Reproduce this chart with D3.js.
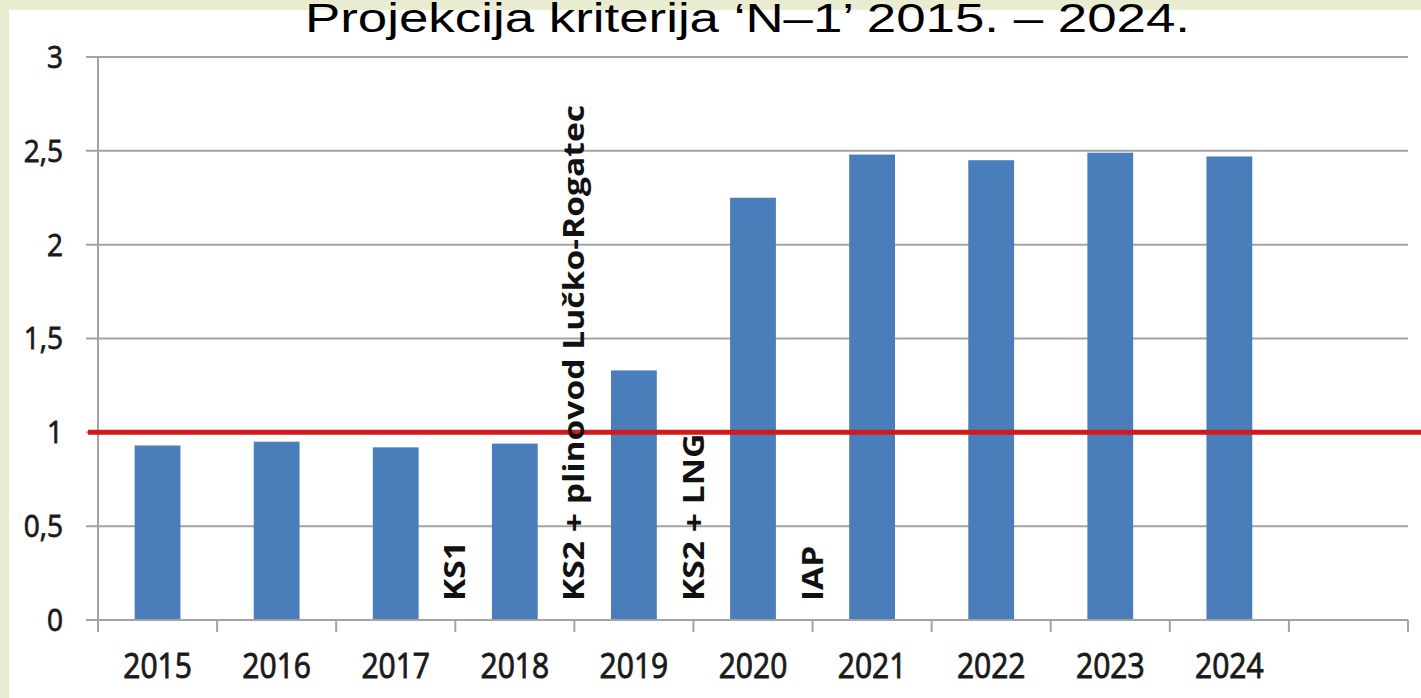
<!DOCTYPE html>
<html><head><meta charset="utf-8">
<script src="https://cdn.jsdelivr.net/npm/d3@7"></script>
<style>body{margin:0;background:#e9ecd0;overflow:hidden} svg{display:block}</style>
</head><body>
<svg id="c" width="1421" height="698"></svg>
<script>
// ---- data ----
const categories = ["2015","2016","2017","2018","2019","2020","2021","2022","2023","2024",""];
const values = [0.93, 0.95, 0.92, 0.94, 1.33, 2.25, 2.48, 2.45, 2.49, 2.47];
const yTicks = [0, 0.5, 1, 1.5, 2, 2.5, 3];
const yTickLabels = ["0", "0,5", "1", "1,5", "2", "2,5", "3"];
const threshold = 1;
const annotations = ["KS1", "KS2 + plinovod Lučko-Rogatec", "KS2 + LNG", "IAP"];
const annotationAt = ["2018", "2019", "2020", "2021"]; // drawn at left edge of these categories
const title = "Projekcija kriterija ‘N–1’ 2015. – 2024.";

// ---- layout ----
const L = 98, R = 1408, T = 57, B = 620;
const svg = d3.select("#c");
const x = d3.scaleBand().domain(categories).range([L, R]).padding(0);
const y = d3.scaleLinear().domain([0, 3]).range([B, T]);
const barW = x.bandwidth() / 2.6;
const gridCol = "#a3a3a3";
const textCol = "#1a1a1a";

// panel
svg.append("rect").attr("x", 9).attr("y", 10).attr("width", 1421 - 9).attr("height", 698 - 10).attr("fill", "#ffffff");

// title
svg.append("text").text(title)
  .attr("x", 305).attr("y", 32)
  .attr("font-family", "'Liberation Sans', Arial, sans-serif")
  .attr("font-size", 40).attr("fill", "#000")
  .attr("textLength", 885).attr("lengthAdjust", "spacingAndGlyphs");

// gridlines (with left tick extension)
svg.append("g").selectAll("line").data(yTicks.filter(d => d > 0)).join("line")
  .attr("x1", L - 12).attr("x2", R)
  .attr("y1", d => y(d)).attr("y2", d => y(d))
  .attr("stroke", gridCol).attr("stroke-width", 2);

// y labels
svg.append("g").selectAll("text").data(yTicks).join("text")
  .attr("transform", d => `translate(63,${y(d)}) scale(1,1.08)`)
  .attr("dy", "0.36em")
  .attr("text-anchor", "end")
  .attr("font-family", "'Open Sans', sans-serif").attr("font-size", 28)
  .attr("fill", textCol).attr("stroke", textCol).attr("stroke-width", 0.7)
  .text((d, i) => yTickLabels[i]);

// bars
svg.append("g").selectAll("rect").data(values).join("rect")
  .attr("x", (d, i) => x(categories[i]) + (x.bandwidth() - barW) / 2)
  .attr("width", barW)
  .attr("y", d => y(d))
  .attr("height", d => y(0) - y(d))
  .attr("fill", "#4a7ebb");

// x axis
svg.append("line").attr("x1", L - 12).attr("x2", R).attr("y1", y(0)).attr("y2", y(0))
  .attr("stroke", gridCol).attr("stroke-width", 2);
svg.append("line").attr("x1", L).attr("x2", L).attr("y1", y(3)).attr("y2", y(0) + 12)
  .attr("stroke", gridCol).attr("stroke-width", 2);
svg.append("g").selectAll("line").data(categories).join("line")
  .attr("x1", d => x(d) + x.bandwidth()).attr("x2", d => x(d) + x.bandwidth())
  .attr("y1", y(0)).attr("y2", y(0) + 12)
  .attr("stroke", gridCol).attr("stroke-width", 2);

// x labels
svg.append("g").selectAll("text").data(categories.filter(c => c)).join("text")
  .attr("transform", d => `translate(${x(d) + x.bandwidth() / 2},678) scale(1,1.17)`)
  .attr("text-anchor", "middle")
  .attr("font-family", "'Open Sans', sans-serif").attr("font-size", 30)
  .attr("fill", textCol).attr("stroke", textCol).attr("stroke-width", 0.8)
  .text(d => d);

// threshold line
svg.append("line").attr("x1", L - 10).attr("x2", 1421)
  .attr("y1", y(threshold)).attr("y2", y(threshold))
  .attr("stroke", "#d01a1e").attr("stroke-width", 5);

// annotations (rotated)
const ann = svg.append("g").selectAll("text").data(annotations).join("text")
  .attr("transform", (d, i) => `translate(${x(annotationAt[i])},601) rotate(-90)`)
  .attr("dy", "0.36em")
  .attr("text-anchor", "start")
  .attr("font-family", "'Open Sans', sans-serif").attr("font-weight", "bold")
  .attr("font-size", 28).attr("fill", "#111")
  .text(d => d);
ann.each(function () {
  const len = this.getComputedTextLength();
  d3.select(this).attr("textLength", len * 1.2).attr("lengthAdjust", "spacingAndGlyphs");
});
</script>
</body></html>
